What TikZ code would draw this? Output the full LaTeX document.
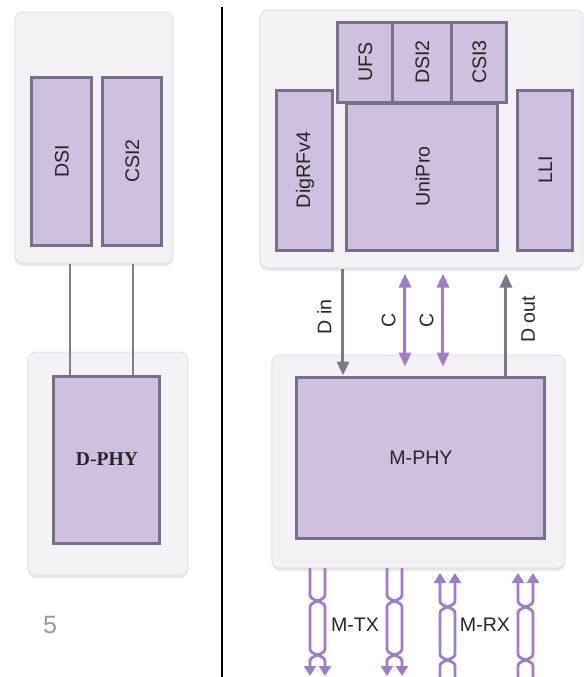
\documentclass[tikz,border=0pt]{standalone}
\usepackage{fontspec}
\setmainfont{Liberation Sans}
\newfontfamily\phyfont{Liberation Serif}
\usetikzlibrary{fit,arrows.meta,shadows}

\definecolor{blockfill}{HTML}{CEC0DE}
\definecolor{blockline}{HTML}{77708A}
\definecolor{hostfill}{HTML}{F4F2F6}
\definecolor{hostline}{HTML}{E2DEE6}
\definecolor{wiregray}{HTML}{7F7F84}
\definecolor{arrgray}{HTML}{7D7889}
\definecolor{arrpurple}{HTML}{9E7DC6}

\begin{document}
\begin{tikzpicture}[x=0.5pt,y=-0.5pt,
  block/.style={draw=blockline,fill=blockfill,line width=1.5pt,inner sep=0pt},
  host/.style={draw=hostline,fill=hostfill,rounded corners=4pt,line width=0.5pt,inner sep=0pt,
    drop shadow={opacity=0.18,shadow xshift=0pt,shadow yshift=-1.5pt}},
  lbl/.style={font=\fontsize{9.8}{11}\selectfont,text=black!85},
  wire/.style={draw=wiregray,line width=1.4pt},
  darr/.style={draw=arrgray,line width=1.5pt,-{Triangle[length=7pt,width=6pt]}},
  carr/.style={draw=arrpurple,line width=1.5pt,
    {Triangle[length=7pt,width=6pt]}-{Triangle[length=7pt,width=6pt]}},
  twist/.style={draw=arrpurple,line width=1.4pt}]
\useasboundingbox (0,0) rectangle (585,677);

% host boxes
\node[host,fit={(15,12) (173,263)}] (lhost) {};
\node[host,fit={(28,352) (188,575)}] (dhost) {};
\node[host,fit={(260,10) (583,268)}] (rhost) {};
\node[host,fit={(272,355) (565,568)}] (mhost) {};

% left side blocks
\node[block,fit={(32,77) (92,245)},label={[lbl,rotate=90]center:DSI}] (dsi) {};
\node[block,fit={(103,77) (162,245)},label={[lbl,rotate=90]center:CSI2}] (csi2) {};
\node[block,fit={(54,376) (160,543)},
  label={[lbl,font=\phyfont\bfseries\fontsize{9.8}{11}\selectfont]center:D-PHY}] (dphy) {};

% right side blocks
\node[block,fit={(277,90) (333,250)},label={[lbl,rotate=90]center:DigRFv4}] (digrf) {};
\node[block,fit={(347,103) (498,250)},label={[lbl,rotate=90]center:UniPro}] (unipro) {};
\node[block,fit={(338,22) (393,102)},label={[lbl,rotate=90]center:UFS}] (ufs) {};
\node[block,fit={(393,22) (452,102)},label={[lbl,rotate=90]center:DSI2}] (dsi2) {};
\node[block,fit={(452,22) (507,102)},label={[lbl,rotate=90]center:CSI3}] (csi3) {};
\node[block,fit={(518,90) (573,250)},label={[lbl,rotate=90]center:LLI}] (lli) {};
\node[block,fit={(297,377) (545,538)},label={[lbl]center:M-PHY}] (mphy) {};

% divider
\draw[line width=1pt] (222,7) -- (222,677);

% D-PHY links
\draw[wire] ([xshift=4pt]dsi.south |- lhost.south) -- ([xshift=4pt]dsi.south |- dphy.north);
\draw[wire] ([xshift=0.25pt]csi2.south |- lhost.south) -- ([xshift=0.25pt]csi2.south |- dphy.north);

% M-PHY links
\draw[darr] ([xshift=-39pt]mphy.north |- rhost.south) -- node[lbl,rotate=90,anchor=south,inner sep=5pt,pos=0.45] {D in} ([xshift=-39pt]mphy.north);
\draw[carr] ([xshift=-8pt,yshift=-2.5pt]mphy.north |- rhost.south) -- node[lbl,rotate=90,anchor=south,inner sep=4pt,pos=0.5] {C} ([xshift=-8pt,yshift=4.5pt]mphy.north);
\draw[carr] ([xshift=11pt,yshift=-2.5pt]mphy.north |- rhost.south) -- node[lbl,rotate=90,anchor=south,inner sep=4pt,pos=0.5] {C} ([xshift=11pt,yshift=4.5pt]mphy.north);
\draw[darr] ([xshift=42.5pt]mphy.north) -- node[lbl,rotate=90,anchor=north,inner sep=7pt,pos=0.55] {D out} ([xshift=42.5pt,yshift=-2.5pt]mphy.north |- rhost.south);

% twisted pairs
\foreach \xa/\ya/\yb in {310/601/655,387/601/655} {
  \draw[twist,-{Triangle[length=5pt,width=6pt]}] (\xa,568) -- (\xa,\ya-6) .. controls (\xa,\ya) and (\xa+15,\ya) .. (\xa+15,\ya+6)
    -- (\xa+15,\yb-6) .. controls (\xa+15,\yb) and (\xa,\yb) .. (\xa,\yb+6) -- (\xa,676);
  \draw[twist,-{Triangle[length=5pt,width=6pt]}] (\xa+15,568) -- (\xa+15,\ya-6) .. controls (\xa+15,\ya) and (\xa,\ya) .. (\xa,\ya+6)
    -- (\xa,\yb-6) .. controls (\xa,\yb) and (\xa+15,\yb) .. (\xa+15,\yb+6) -- (\xa+15,676);
}
\foreach \xa/\ya/\yb in {440/607/660,518/607/660} {
  \draw[twist,-{Triangle[length=5pt,width=6pt]}] (\xa,677) -- (\xa,\yb+6) .. controls (\xa,\yb) and (\xa+15,\yb) .. (\xa+15,\yb-6)
    -- (\xa+15,\ya+6) .. controls (\xa+15,\ya) and (\xa,\ya) .. (\xa,\ya-6) -- (\xa,573);
  \draw[twist,-{Triangle[length=5pt,width=6pt]}] (\xa+15,677) -- (\xa+15,\yb+6) .. controls (\xa+15,\yb) and (\xa,\yb) .. (\xa,\yb-6)
    -- (\xa,\ya+6) .. controls (\xa,\ya) and (\xa+15,\ya) .. (\xa+15,\ya-6) -- (\xa+15,573);
}
\node[lbl] (mtx) at (355,625) {M-TX};
\node[lbl] (mrx) at (485,625) {M-RX};

% page number
\node[font=\fontsize{12.5}{14}\selectfont,text=black!40] (pnum) at (50,625) {5};
\end{tikzpicture}
\end{document}
